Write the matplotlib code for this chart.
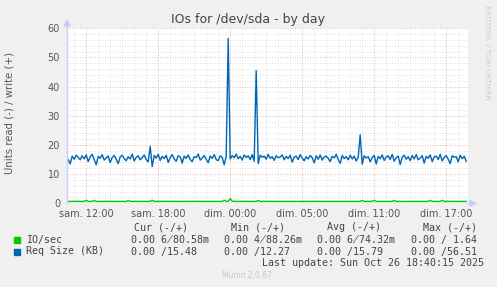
import numpy as np
import matplotlib
matplotlib.use("Agg")
import matplotlib.pyplot as plt

# ---- data ----
title = "IOs for /dev/sda - by day"
ylabel = "Units read (-) / write (+)"
tick_hours = [0, 6, 12, 18, 24, 30]
tick_labels = ["sam. 12:00", "sam. 18:00", "dim. 00:00", "dim. 05:00", "dim. 11:00", "dim. 17:00"]
start_hour = -1.5      # hours relative to "sam. 12:00"
step_hour = 1.0 / 6.0  # 10 minute samples

req_size_write = [
    15.0, 13.5, 16.2, 15.1, 16.5, 15.8, 14.9, 16.3, 15.2, 16.6,
    14.3, 15.9, 16.8, 15.0, 13.2, 16.1, 15.4, 16.7, 14.8, 15.6,
    16.2, 14.0, 15.7, 16.4, 15.1, 13.6, 15.9, 16.5, 15.3, 14.6,
    16.0, 15.2, 16.9, 14.5, 15.8, 16.3, 14.9, 15.7, 16.6, 15.0,
    14.2, 19.5, 12.6, 16.4, 15.5, 16.8, 14.7, 16.1, 15.3, 16.5,
    14.0, 15.6, 16.7, 15.2, 14.4, 16.3, 15.9, 13.8, 16.2, 15.4,
    16.6, 15.0, 14.3, 16.0, 15.7, 16.9, 14.8, 15.5, 16.4, 15.1,
    13.9, 16.2, 15.4, 16.7, 15.0, 14.6, 16.3, 15.8, 13.2, 16.1,
    56.5, 15.2, 16.4, 15.6, 16.9, 15.3, 16.1, 14.8, 16.6, 15.7,
    16.3, 15.0, 16.7, 14.4, 45.5, 13.6, 16.5, 15.8, 16.2, 15.1,
    16.8, 15.4, 16.0, 14.7, 16.3, 15.6, 15.9, 16.6, 14.9, 16.1,
    15.3, 16.5, 14.1, 15.8, 16.2, 15.0, 16.7, 15.5, 14.6, 16.0,
    15.2, 16.4, 15.7, 13.9, 16.3, 15.1, 16.6, 14.8, 15.9, 16.2,
    15.4, 14.3, 16.1, 15.6, 16.8, 15.0, 13.7, 16.4, 15.3, 16.0,
    14.9, 16.5, 15.2, 16.2, 14.5, 15.8, 23.5, 13.4, 16.3, 15.5,
    16.0, 14.2, 15.7, 16.4, 13.5, 16.1, 15.3, 16.6, 14.7, 15.9,
    16.3, 15.0, 16.8, 14.4, 15.6, 16.2, 13.3, 15.8, 16.5, 15.1,
    16.0, 14.6, 16.4, 15.2, 16.7, 14.9, 15.5, 16.3, 13.8, 16.1,
    15.4, 16.6, 14.3, 15.9, 16.2, 15.0, 16.8, 14.5, 15.7, 16.4,
    15.1, 13.6, 16.3, 15.8, 16.0, 14.2, 16.5, 15.3, 16.1, 14.4,
]

io_sec_write = [
    0.66, 0.64, 0.67, 0.65, 0.66, 0.68, 0.65, 0.66, 0.64, 1.05,
    0.66, 0.65, 0.67, 1.02, 0.66, 0.64, 0.65, 0.67, 0.66, 0.65,
    0.64, 0.66, 0.67, 0.65, 0.66, 0.64, 0.65, 0.66, 0.67, 0.65,
    0.98, 0.66, 0.65, 0.64, 0.66, 0.67, 0.65, 0.66, 0.64, 0.65,
    0.66, 0.67, 1.08, 0.65, 0.66, 0.64, 0.65, 0.67, 0.66, 0.65,
    0.64, 0.66, 0.67, 0.65, 0.66, 0.64, 0.65, 0.66, 0.67, 0.65,
    0.66, 0.65, 0.64, 0.66, 0.67, 0.65, 0.66, 0.64, 0.65, 0.66,
    0.67, 0.65, 0.66, 0.64, 0.65, 0.66, 0.67, 0.65, 1.10, 0.66,
    0.70, 1.64, 0.72, 0.66, 0.65, 0.64, 0.66, 0.67, 0.65, 0.66,
    0.64, 0.65, 0.66, 0.67, 0.65, 1.00, 0.66, 0.65, 0.64, 0.66,
    0.67, 0.65, 0.66, 0.64, 0.65, 0.66, 0.67, 0.65, 0.66, 0.64,
    0.65, 0.66, 0.67, 0.65, 0.66, 0.64, 0.65, 0.66, 0.67, 0.65,
    0.66, 0.65, 0.64, 0.66, 0.67, 0.65, 0.66, 0.64, 0.65, 0.66,
    0.67, 0.65, 0.66, 0.64, 0.65, 0.66, 0.67, 0.65, 0.66, 0.64,
    0.65, 0.66, 0.67, 0.65, 0.66, 0.64, 0.65, 1.02, 0.66, 0.65,
    0.64, 0.66, 0.67, 1.05, 0.66, 0.64, 0.65, 0.66, 0.67, 0.65,
    0.66, 0.65, 0.64, 1.00, 0.67, 0.65, 0.66, 0.64, 0.65, 0.66,
    0.67, 0.65, 0.66, 0.64, 0.65, 0.66, 0.67, 0.65, 0.66, 0.64,
    0.65, 1.02, 0.67, 0.65, 0.66, 0.64, 0.65, 1.04, 0.66, 0.65,
    0.64, 0.66, 0.67, 0.65, 0.66, 0.64, 0.65, 0.66, 0.67, 0.65,
]

# legend cells; "\u0338" overlays the slash on the first digit, as in the reference
legend_rows = [
    ("IO/sec", "#00CC00",
     ["0.00 6\u033880.58m", "0.00 4\u033888.26m", "0.00 6\u033874.32m", "0.00 / 1.64"]),
    ("Req Size (KB)", "#0066B3",
     ["0.00 /15.48", "0.00 /12.27", "0.00 /15.79", "0.00 /56.51"]),
]
col_headers = ["Cur (-/+)", "Min (-/+)", "Avg (-/+)", "Max (-/+)"]
last_update = "Last update: Sun Oct 26 18:40:15 2025"
version = "Munin 2.0.67"

# ---- figure ----
W, H = 497, 287
fig = plt.figure(figsize=(W / 100, H / 100), dpi=100, facecolor="#F0F0F0")

def fx(px):
    return px / W

def fy(py):
    return 1 - py / H

L, R, T, B = 67, 468, 28.3, 203.3
ax = fig.add_axes([fx(L), fy(B), fx(R) - fx(L), fy(T) - fy(B)])
ax.set_facecolor("white")

t = start_hour + step_hour * np.arange(len(req_size_write))
x0 = start_hour - 0.1
x1 = x0 + (R - L) / 12.0
ax.set_xlim(x0, x1)
ax.set_ylim(0, 60)

# grid
for h in np.arange(np.ceil(x0), x1, 1.0):
    if int(round(h)) % 6 != 0:
        ax.axvline(h, color="#d8d8d8", lw=0.6, ls=(0, (1, 2)), zorder=1)
for v in range(2, 60, 2):
    if v % 10 != 0:
        ax.axhline(v, color="#d8d8d8", lw=0.6, ls=(0, (1, 2)), zorder=1)
for h in tick_hours:
    ax.axvline(h, color="#e0a0a0", lw=0.6, ls=(0, (1, 2)), zorder=1.5)
for v in range(10, 61, 10):
    ax.axhline(v, color="#e0a0a0", lw=0.6, ls=(0, (1, 2)), zorder=1.5)

ax.plot(t, io_sec_write, color="#00CC00", lw=1.0, zorder=3)
ax.plot(t, req_size_write, color="#0066B3", lw=1.0, zorder=3)
ax.axhline(0, color="#777777", lw=0.9, zorder=4)

for s in ax.spines.values():
    s.set_visible(False)
ax.set_xticks(tick_hours)
ax.set_xticklabels(tick_labels)
ax.set_yticks(range(0, 61, 10))
ax.tick_params(length=0, labelsize=7, labelcolor="#555555", pad=4)
ax.tick_params(axis="y", pad=5)

# axis lines with arrows (light blue)
axc = "#C8CCF8"
fig.add_artist(plt.Line2D([fx(L), fx(L)], [fy(B), fy(22)], color=axc, lw=1.0))
fig.add_artist(plt.Polygon([[fx(L - 3), fy(26)], [fx(L + 3), fy(26)], [fx(L), fy(20)]], color=axc))
fig.add_artist(plt.Line2D([fx(R), fx(473)], [fy(B), fy(B)], color=axc, lw=1.0))
fig.add_artist(plt.Polygon([[fx(470), fy(B - 3)], [fx(470), fy(B + 3)], [fx(476), fy(B)]], color=axc))

# texts
fig.text(fx(248), fy(19), title, ha="center", va="center", fontsize=9, color="#444444")
fig.text(fx(10), fy(113), ylabel, ha="center", va="center", rotation=90, fontsize=7.3, color="#555555")
fig.text(fx(487), fy(5), "RRDTOOL / TOBI OETIKER", ha="center", va="top", rotation=270,
         fontsize=5.3, color="#cccccc")

mono = dict(family="DejaVu Sans Mono", fontsize=7.2, color="#444444", va="center", ha="left")
header_x = [134, 231, 327, 423]
val_x = [131, 224, 317, 411]
for hx, h in zip(header_x, col_headers):
    fig.text(fx(hx), fy(227), h, **mono)
row_y = [240, 251.5]
for (name, col, cells), ry in zip(legend_rows, row_y):
    fig.add_artist(plt.Rectangle((fx(13.5), fy(ry + 3)), fx(6), fy(0) - fy(6), color=col))
    fig.text(fx(26), fy(ry), name, **mono)
    for vx, cell in zip(val_x, cells):
        fig.text(fx(vx), fy(ry), cell, **mono)
fig.text(fx(262), fy(263), last_update, **mono)
fig.text(fx(247), fy(276), version, ha="center", va="center", fontsize=5.5, color="#c8c8c8")

fig.savefig("out.png", dpi=100, facecolor=fig.get_facecolor())
